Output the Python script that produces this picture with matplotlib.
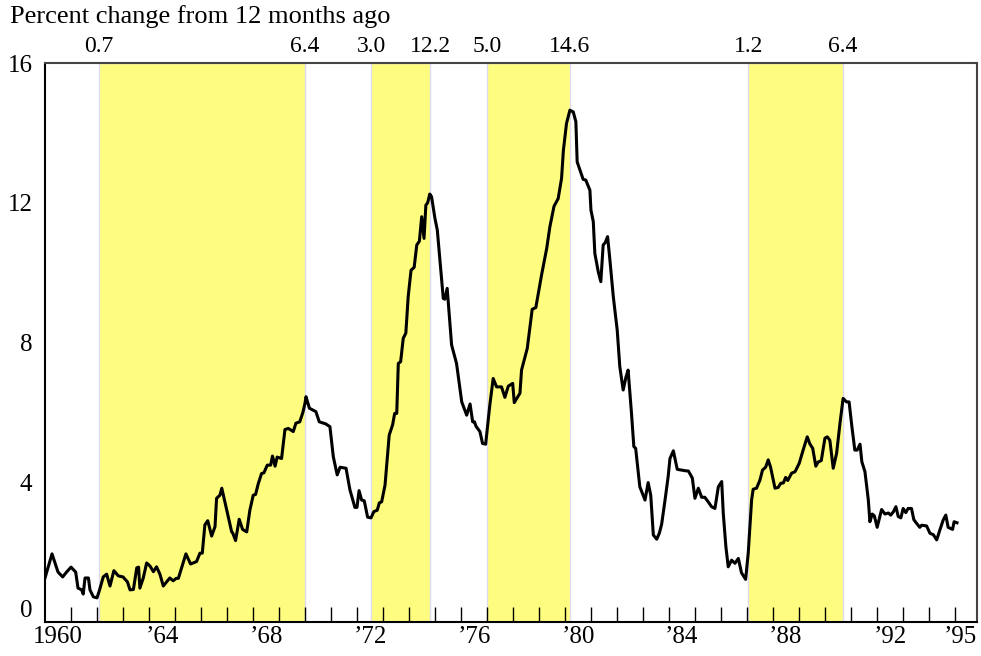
import matplotlib
matplotlib.use("Agg")
import matplotlib.pyplot as plt
import matplotlib.transforms as mtransforms

# ---- data ----
dates = [
    1960.00, 1960.27, 1960.50, 1960.68, 1960.83, 1961.00, 1961.10, 1961.18, 1961.27, 1961.41,
    1961.47, 1961.54, 1961.67, 1961.73, 1961.86, 1962.00, 1962.10, 1962.24, 1962.37, 1962.50,
    1962.65, 1962.82, 1963.00, 1963.17, 1963.27, 1963.40, 1963.53, 1963.60, 1963.65, 1963.78,
    1963.91, 1964.04, 1964.17, 1964.29, 1964.42, 1964.55, 1964.68, 1964.80, 1964.93, 1965.05,
    1965.13, 1965.42, 1965.60, 1965.83, 1965.96, 1966.05, 1966.15, 1966.26, 1966.41, 1966.54,
    1966.60, 1966.73, 1966.80, 1966.92, 1967.05, 1967.18, 1967.22, 1967.33, 1967.47, 1967.60,
    1967.76, 1967.88, 1968.01, 1968.10, 1968.20, 1968.33, 1968.42, 1968.55, 1968.68, 1968.75,
    1968.85, 1968.93, 1969.10, 1969.23, 1969.36, 1969.55, 1969.65, 1969.80, 1969.92, 1970.00,
    1970.04, 1970.17, 1970.42, 1970.55, 1970.80, 1970.96, 1971.09, 1971.24, 1971.35, 1971.58,
    1971.73, 1971.92, 1972.00, 1972.08, 1972.18, 1972.28, 1972.41, 1972.54, 1972.65, 1972.78,
    1972.86, 1972.95, 1973.08, 1973.24, 1973.37, 1973.45, 1973.53, 1973.59, 1973.68, 1973.78,
    1973.88, 1973.97, 1974.08, 1974.20, 1974.30, 1974.40, 1974.49, 1974.58, 1974.65, 1974.72,
    1974.80, 1974.87, 1975.00, 1975.09, 1975.32, 1975.38, 1975.47, 1975.64, 1975.83, 1976.03,
    1976.22, 1976.35, 1976.45, 1976.52, 1976.58, 1976.73, 1976.83, 1976.95, 1977.11, 1977.24,
    1977.37, 1977.56, 1977.69, 1977.82, 1977.99, 1978.05, 1978.27, 1978.33, 1978.55, 1978.74,
    1978.88, 1979.10, 1979.30, 1979.42, 1979.58, 1979.74, 1979.87, 1979.94, 1980.06, 1980.19,
    1980.32, 1980.42, 1980.47, 1980.60, 1980.70, 1980.80, 1980.96, 1981.00, 1981.09, 1981.15,
    1981.28, 1981.38, 1981.47, 1981.55, 1981.64, 1981.73, 1981.86, 1982.01, 1982.11, 1982.24,
    1982.35, 1982.43, 1982.56, 1982.65, 1982.72, 1982.88, 1983.08, 1983.20, 1983.30, 1983.40,
    1983.53, 1983.63, 1983.72, 1983.85, 1983.97, 1984.04, 1984.17, 1984.32, 1984.62, 1984.75,
    1984.90, 1985.00, 1985.13, 1985.26, 1985.38, 1985.51, 1985.64, 1985.77, 1985.90, 1986.03,
    1986.09, 1986.19, 1986.28, 1986.41, 1986.54, 1986.67, 1986.79, 1986.95, 1987.05, 1987.18,
    1987.24, 1987.37, 1987.50, 1987.60, 1987.72, 1987.82, 1987.91, 1988.08, 1988.20, 1988.30,
    1988.40, 1988.49, 1988.57, 1988.72, 1988.85, 1989.01, 1989.17, 1989.32, 1989.42, 1989.53,
    1989.65, 1989.74, 1989.86, 1990.00, 1990.09, 1990.19, 1990.32, 1990.45, 1990.58, 1990.70,
    1990.83, 1990.93, 1991.03, 1991.15, 1991.24, 1991.35, 1991.42, 1991.54, 1991.67, 1991.73,
    1991.82, 1991.90, 1992.01, 1992.18, 1992.31, 1992.44, 1992.53, 1992.63, 1992.73, 1992.82,
    1992.92, 1993.01, 1993.11, 1993.20, 1993.33, 1993.42, 1993.53, 1993.65, 1993.72, 1993.91,
    1994.04, 1994.17, 1994.30, 1994.42, 1994.55, 1994.65, 1994.74, 1994.91, 1994.97, 1995.08,
]
cpi_change = [
    1.26, 1.95, 1.43, 1.29, 1.43, 1.57, 1.49, 1.43, 0.97, 0.92,
    0.80, 1.26, 1.26, 0.92, 0.72, 0.69, 0.92, 1.29, 1.37, 1.03,
    1.47, 1.32, 1.29, 1.15, 0.92, 0.93, 1.55, 1.57, 0.97, 1.26,
    1.69, 1.60, 1.44, 1.58, 1.37, 1.03, 1.15, 1.26, 1.18, 1.25,
    1.25, 1.95, 1.66, 1.73, 1.97, 1.97, 2.78, 2.90, 2.46, 2.73,
    3.54, 3.63, 3.83, 3.44, 3.01, 2.58, 2.55, 2.33, 2.94, 2.65,
    2.58, 3.20, 3.63, 3.65, 3.95, 4.25, 4.27, 4.49, 4.49, 4.75,
    4.46, 4.72, 4.68, 5.51, 5.54, 5.45, 5.69, 5.73, 6.00, 6.26,
    6.45, 6.12, 6.02, 5.73, 5.67, 5.59, 4.73, 4.21, 4.43, 4.40,
    3.78, 3.28, 3.28, 3.76, 3.49, 3.47, 3.00, 2.98, 3.16, 3.20,
    3.41, 3.44, 3.92, 5.35, 5.64, 5.97, 5.97, 7.40, 7.45, 8.12,
    8.27, 9.31, 10.07, 10.15, 10.79, 10.90, 11.60, 10.98, 11.93, 12.00,
    12.25, 12.17, 11.55, 11.22, 9.26, 9.24, 9.55, 7.93, 7.40, 6.30,
    5.92, 6.24, 5.73, 5.73, 5.60, 5.45, 5.11, 5.09, 6.21, 6.97,
    6.73, 6.73, 6.43, 6.75, 6.83, 6.28, 6.55, 7.21, 7.83, 8.95,
    9.00, 9.93, 10.70, 11.31, 11.90, 12.12, 12.70, 13.50, 14.27, 14.65,
    14.60, 14.32, 13.17, 12.89, 12.67, 12.65, 12.36, 11.79, 11.46, 10.55,
    10.03, 9.74, 10.79, 10.86, 11.03, 10.36, 9.31, 8.36, 7.31, 6.64,
    7.02, 7.21, 5.97, 5.02, 4.97, 3.87, 3.49, 3.99, 3.63, 2.49,
    2.37, 2.54, 2.80, 3.49, 4.16, 4.68, 4.90, 4.37, 4.33, 4.32,
    4.12, 3.54, 3.83, 3.57, 3.57, 3.44, 3.30, 3.25, 3.87, 4.02,
    3.11, 2.16, 1.58, 1.77, 1.68, 1.82, 1.41, 1.22, 1.97, 3.49,
    3.80, 3.83, 4.06, 4.35, 4.43, 4.64, 4.43, 3.83, 3.85, 3.97,
    3.98, 4.14, 4.05, 4.26, 4.30, 4.54, 4.94, 5.30, 5.10, 4.97,
    4.46, 4.58, 4.62, 5.26, 5.30, 5.20, 4.40, 4.83, 5.69, 6.40,
    6.30, 6.30, 5.64, 4.92, 4.92, 5.09, 4.59, 4.30, 3.49, 2.87,
    3.09, 3.04, 2.71, 3.22, 3.09, 3.12, 3.06, 3.15, 3.30, 3.02,
    2.98, 3.25, 3.13, 3.25, 3.25, 2.93, 2.82, 2.71, 2.77, 2.75,
    2.54, 2.50, 2.35, 2.63, 2.92, 3.06, 2.71, 2.65, 2.87, 2.84,
]

shade_starts = [1962.08, 1972.54, 1977.00, 1987.05]
shade_ends = [1970.00, 1974.81, 1980.19, 1990.70]
start_labels = ["0.7", "3.0", "5.0", "1.2"]
end_labels = ["6.4", "12.2", "14.6", "6.4"]

y_ticks = [0, 4, 8, 12, 16]
x_label_pos = [1960.5, 1964.5, 1968.5, 1972.5, 1976.5, 1980.5, 1984.5, 1988.5, 1992.5, 1995.84]
x_labels = ["1960", "\u201964", "\u201968", "\u201972", "\u201976", "\u201980",
            "\u201984", "\u201988", "\u201992", "\u201995"]
year_ticks = list(range(1961, 1996))

title = "Percent change from 12 months ago"

# ---- figure ----
plt.rcParams['font.family'] = ['Liberation Serif', 'DejaVu Serif']
fig = plt.figure(figsize=(9.81, 6.56), dpi=100)
ax = fig.add_axes([45 / 981, 1 - 622 / 656, (977 - 45) / 981, (622 - 63) / 656])

for s, e in zip(shade_starts, shade_ends):
    ax.axvspan(s, e, facecolor='#FFFD80', edgecolor='#DCDCEE', linewidth=1.0, zorder=0)

ax.plot(dates, cpi_change, color='black', linewidth=2.2, zorder=3,
        solid_joinstyle='round')

ax.set_xlim(1960.0, 1995.85)
ax.set_ylim(0, 16)

# y axis
ax.set_yticks(y_ticks)
ax.set_yticklabels([str(v) for v in y_ticks], fontsize=18)
ax.tick_params(axis='y', length=0, pad=9)
ylabs = ax.get_yticklabels()
ylabs[0].set_verticalalignment('bottom')

# x axis
ax.set_xticks(year_ticks)
ax.set_xticklabels([])
ax.tick_params(axis='x', which='major', direction='in', length=11, width=1.0, color='black')
ax.set_xticks(x_label_pos, minor=True)
ax.set_xticklabels(x_labels, minor=True, fontsize=18)
ax.tick_params(axis='x', which='minor', length=0, pad=3)
ax.get_xticklabels(minor=True)[-1].set_horizontalalignment('right')

for side in ['left', 'bottom']:
    ax.spines[side].set_color('black')
    ax.spines[side].set_linewidth(1.5)
for side in ['top', 'right']:
    ax.spines[side].set_color('#444444')
    ax.spines[side].set_linewidth(1.5)

# labels above shaded periods
trans = mtransforms.blended_transform_factory(ax.transData, ax.transAxes)
ylab_axes = (622 - 46) / (622 - 63)
for s, e, sl, el in zip(shade_starts, shade_ends, start_labels, end_labels):
    ax.text(s, ylab_axes, sl, transform=trans, ha='center', va='center', fontsize=17)
    ax.text(e, ylab_axes, el, transform=trans, ha='center', va='center', fontsize=17)

fig.text(10 / 981, 1 - 17 / 656, title, ha='left', va='center', fontsize=19)

fig.savefig('out.png', dpi=100)
